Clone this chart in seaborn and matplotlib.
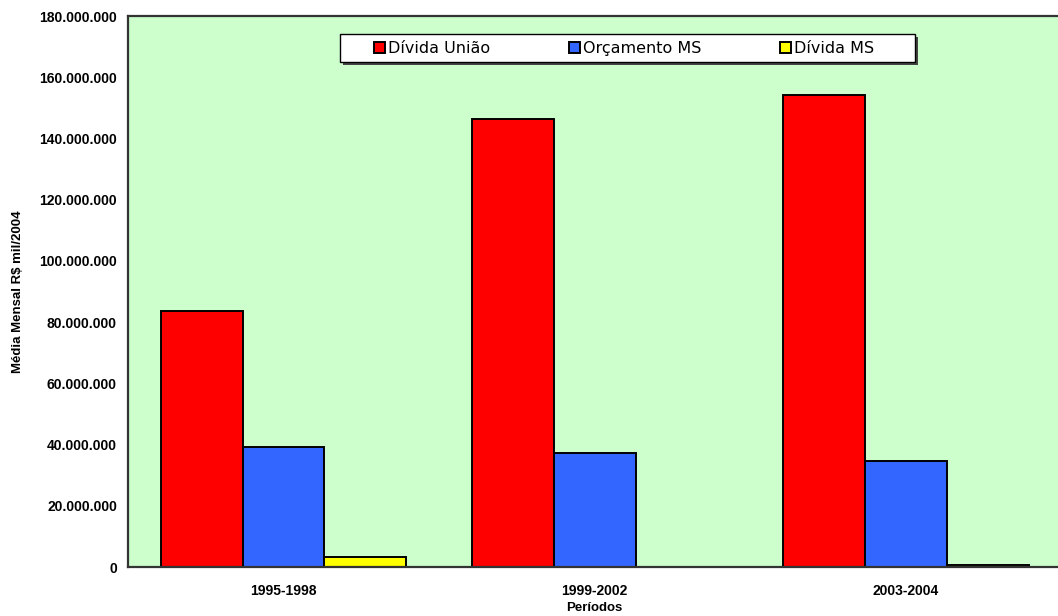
import matplotlib
matplotlib.use("Agg")
import matplotlib.pyplot as plt
from matplotlib.ticker import FuncFormatter, FixedLocator
from matplotlib.patches import Rectangle, Shadow
import seaborn as sns
import pandas as pd

# Períodos e séries (médias mensais, R$ mil de 2004)
periodos = ["1995-1998", "1999-2002", "2003-2004"]
series = ["Dívida União", "Orçamento MS", "Dívida MS"]
divida_uniao = [83_700_000, 146_500_000, 154_300_000]
orcamento_ms = [39_200_000, 37_200_000, 34_600_000]
divida_ms = [3_300_000, 0, 500_000]
cores = ["#FF0000", "#3366FF", "#FFFF00"]
yticks = list(range(0, 180_000_001, 20_000_000))

valores = {"Dívida União": divida_uniao,
           "Orçamento MS": orcamento_ms,
           "Dívida MS": divida_ms}
df = pd.DataFrame([
    {"Período": p, "Série": s, "Valor": valores[s][i]}
    for s in series for i, p in enumerate(periodos)
])

sns.set_theme(style="white")
plt.rcParams["font.family"] = ["DejaVu Sans"]
plt.rcParams["text.color"] = "black"
plt.rcParams["axes.labelcolor"] = "black"
plt.rcParams["xtick.color"] = "black"
plt.rcParams["ytick.color"] = "black"
eixo_fonte = dict(family="Liberation Sans", weight="bold")

W, H = 1058, 616
fig = plt.figure(figsize=(W / 100, H / 100), dpi=100)
ax = fig.add_axes([0.121, 0.0795, 0.882, 0.8945])
ax.set_facecolor("#CCFFCC")

sns.barplot(data=df, x="Período", y="Valor", hue="Série",
            order=periodos, hue_order=series, palette=cores,
            width=0.79, edgecolor="black", linewidth=1.4,
            errorbar=None, saturation=1, ax=ax)

ax.set_xlim(-0.5, 2.5)
ax.set_ylim(0, 180_000_000)
ax.yaxis.set_major_locator(FixedLocator(yticks))
ax.yaxis.set_major_formatter(
    FuncFormatter(lambda v, _: f"{v:,.0f}".replace(",", ".")))

# separadores entre os períodos
ax.set_xticks([0, 1, 2])
ax.set_xticklabels(periodos)
ax.set_xticks([-0.5, 0.5, 1.5], minor=True)
ax.tick_params(axis="x", which="major", length=0, pad=12)
ax.tick_params(axis="x", which="minor", length=5, width=1.2,
               color="#222222", direction="out")
ax.tick_params(axis="y", length=4, width=1.2, color="#222222",
               direction="out", pad=4)
for lbl in ax.get_xticklabels() + ax.get_yticklabels():
    lbl.set_fontsize(10)
    lbl.set_fontfamily("Liberation Sans")
    lbl.set_fontweight("bold")
    lbl.set_color("black")

for side in ["left", "bottom", "top"]:
    ax.spines[side].set_visible(True)
    ax.spines[side].set_color("#333333")
    ax.spines[side].set_linewidth(1.6)
ax.spines["right"].set_visible(False)

ax.set_xlabel("Períodos", fontsize=9.5, labelpad=3, color="black",
              **eixo_fonte)
ax.set_ylabel("Média Mensal R$ mil/2004", fontsize=9.5, color="black",
              **eixo_fonte)
ax.yaxis.set_label_coords(-0.112, 0.5)

# legenda: caixa branca com sombra e as três séries em linha
caixa = Rectangle((340 / W, 1 - 62 / H), 575 / W, 28 / H,
                  transform=fig.transFigure, facecolor="white",
                  edgecolor="black", linewidth=1.0, zorder=4)
sombra = Shadow(caixa, 2 / W, -2 / H, facecolor="#444444",
                edgecolor="none", alpha=1, zorder=3.9)
sombra.set_transform(fig.transFigure)
fig.add_artist(sombra)
fig.add_artist(caixa)

handles, labels = ax.get_legend_handles_labels()
leg = fig.legend(handles, labels, ncol=3, loc="center",
                 bbox_to_anchor=(624 / W, 1 - 48.5 / H),
                 frameon=False, fontsize=11.5, labelcolor="black",
                 handlelength=0.7, handleheight=0.65, handletextpad=0.2,
                 columnspacing=4.9, borderpad=0.2)
leg.set_zorder(5)
ax.get_legend().remove()

fig.savefig("out.png", dpi=100, facecolor="white")
